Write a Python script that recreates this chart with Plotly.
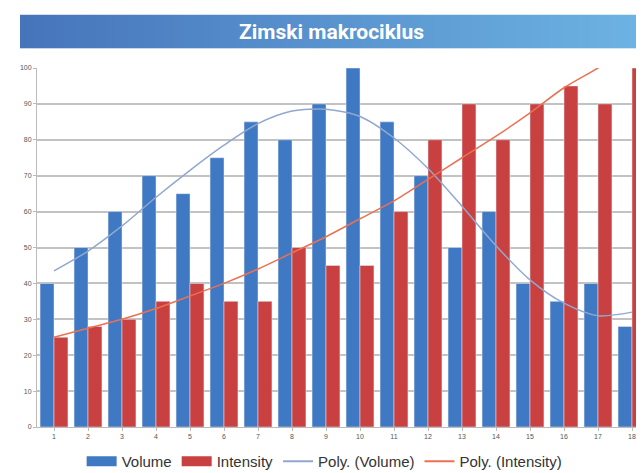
import plotly.graph_objects as go

categories = [str(i) for i in range(1, 19)]
volume = [40, 50, 60, 70, 65, 75, 85, 80, 90, 100, 85, 70, 50, 60, 40, 35, 40, 28]
intensity = [25, 28, 30, 35, 40, 35, 35, 50, 45, 45, 60, 80, 90, 80, 90, 95, 90, 100]
# polynomial trendlines as drawn in the original
poly_volume = [43.5, 49, 56, 64, 71.5, 78.5, 84.5, 88, 88.5, 86.5, 80.5, 72, 61.5, 50.5, 41, 34.5, 31, 32]
poly_intensity = [25, 27.5, 30, 33, 36.5, 40, 44, 48.5, 53, 58, 63, 69, 75, 81, 87.5, 94.5, 100, 106]
y_ticks = list(range(0, 101, 10))
title_text = "Zimski makrociklus"

xs = list(range(1, len(categories) + 1))

BLUE = "#3f78c3"
RED = "#c8403f"
LBLUE = "#90a8cf"
ORANGE = "#ec7151"

fig = go.Figure()
fig.add_trace(go.Bar(x=xs, y=volume, name="Volume", marker_color=BLUE, showlegend=False))
fig.add_trace(go.Bar(x=xs, y=intensity, name="Intensity", marker_color=RED, showlegend=False))
fig.add_trace(go.Scatter(x=xs, y=poly_volume, mode="lines", name="Poly. (Volume)",
                         line=dict(color=LBLUE, width=1.5, shape="spline", smoothing=0.8),
                         showlegend=False))
fig.add_trace(go.Scatter(x=xs, y=poly_intensity, mode="lines", name="Poly. (Intensity)",
                         line=dict(color=ORANGE, width=1.5, shape="spline", smoothing=0.8),
                         showlegend=False))
# legend entries (wide swatches like the original)
for name, col, w in [("Volume", BLUE, 10), ("Intensity", RED, 10),
                     ("Poly. (Volume)", LBLUE, 2), ("Poly. (Intensity)", ORANGE, 2)]:
    fig.add_trace(go.Scatter(x=[None], y=[None], mode="lines", name=name,
                             line=dict(color=col, width=w)))

grad_svg = (
    "data:image/svg+xml;utf8,"
    "<svg xmlns='http://www.w3.org/2000/svg' width='100' height='10' preserveAspectRatio='none'>"
    "<defs><linearGradient id='g' x1='0' x2='1' y1='0' y2='0'>"
    "<stop offset='0' stop-color='%234674bb'/><stop offset='1' stop-color='%236db4e3'/>"
    "</linearGradient></defs><rect width='100' height='10' fill='url(%23g)'/></svg>"
)

fig.update_layout(
    width=644, height=473,
    margin=dict(l=29, r=3, t=60, b=44),
    paper_bgcolor="white", plot_bgcolor="white",
    barmode="group", bargap=0.18, bargroupgap=0,
    font=dict(family="Liberation Sans, Arial, sans-serif", color="#333"),
    showlegend=True,
    legend=dict(orientation="h", x=0.47, xanchor="center", y=-0.05, yanchor="top",
                font=dict(size=15, color="#333"), traceorder="normal",
                itemwidth=30, tracegroupgap=0),
    images=[dict(source=grad_svg, xref="paper", yref="paper", x=-0.0278, y=1.149,
                 sizex=1.035, sizey=0.095, xanchor="left", yanchor="top",
                 sizing="stretch", layer="below")],
    annotations=[dict(text="<b>" + title_text + "</b>", xref="paper", yref="paper",
                      x=0.482, y=1.101, xanchor="center", yanchor="middle", showarrow=False,
                      font=dict(family="Roboto, sans-serif", size=21, color="white"))],
)
fig.update_xaxes(range=[0.5, 18.5], tickmode="array", tickvals=xs, ticktext=categories,
                 tickfont=dict(size=7, color="#555"), showgrid=False,
                 showline=True, linecolor="#bbb", ticks="outside", ticklen=3, tickcolor="#bbb")
fig.update_yaxes(range=[0, 100], tickmode="array", tickvals=y_ticks,
                 tickfont=dict(size=7, color="#555"), showgrid=True, gridcolor="#c2c2c2",
                 gridwidth=1.5, showline=True, linecolor="#bbb", zeroline=False,
                 ticks="outside", ticklen=3, tickcolor="#bbb")

fig.write_html("out.html")
